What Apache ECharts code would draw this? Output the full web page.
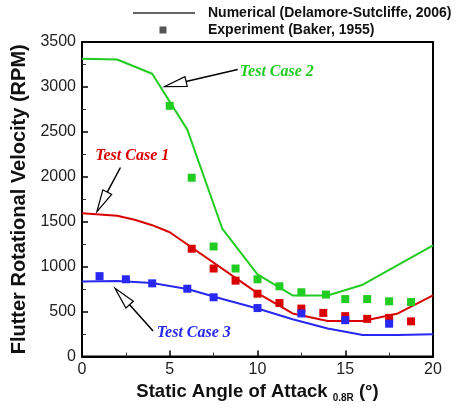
<!DOCTYPE html>
<html><head><meta charset="utf-8">
<script src="https://cdn.jsdelivr.net/npm/echarts@6/dist/echarts.min.js"></script>
<style>html,body{margin:0;padding:0;background:#fff}#c{width:462px;height:408px}</style>
</head><body><div id="c"></div>
<script>
// ---- data ----
const xTicks = [0, 5, 10, 15, 20];
const yTicks = [0, 500, 1000, 1500, 2000, 2500, 3000, 3500];

const case1Numerical = [[0,1595],[2,1566],[3,1522],[4,1462],[5,1383],[10,706],[12,480],[14,395],[16,395],[18,480],[20,680]];
const case1Experiment = [[6.25,1200],[7.5,980],[8.75,845],[10,700],[11.25,596],[12.5,534],[13.75,486],[15,450],[16.25,420],[17.5,431],[18.75,392]];

const case2Numerical = [[0,3315],[2,3305],[4,3147],[6,2525],[8,1420],[10,915],[12,680],[14,680],[16,800],[20,1237]];
const case2Experiment = [[5,2790],[6.25,1990],[7.5,1225],[8.75,980],[10,860],[11.25,782],[12.5,716],[13.9,690],[15,640],[16.25,640],[17.5,615],[18.75,607]];

const case3Numerical = [[0,835],[2,840],[4,818],[6,752],[8,640],[10,535],[12,415],[14,312],[16,240],[18,240],[20,248]];
const case3Experiment = [[1,895],[2.5,860],[4,815],[6,755],[7.5,660],[10,540],[12.5,480],[15,405],[17.5,366]];

const legendLabels = ['Numerical (Delamore-Sutcliffe, 2006)', 'Experiment (Baker, 1955)'];
const caseLabels = ['Test Case 1', 'Test Case 2', 'Test Case 3'];
// annotation anchors in data coordinates: [text, tail, tip]
const annotations = [
  {label: caseLabels[0], text: [2.86, 2228], tail: [2.19, 2104], tip: [0.85, 1614], align: 'center'},
  {label: caseLabels[1], text: [8.99, 3172], tail: [8.87, 3195], tip: [4.71, 3004], align: 'left'},
  {label: caseLabels[2], text: [4.26, 263], tail: [4.05, 285], tip: [1.88, 761], align: 'left'}
];

const RED = '#d80000', GREEN = '#22cc22', BLUE = '#2828f0';
const caseColors = [RED, GREEN, BLUE];

const chart = echarts.init(document.getElementById('c'), null, {renderer: 'canvas'});

function lineSeries(data, color) {
  return {type: 'line', data: data, showSymbol: false, symbol: 'none', silent: true,
    lineStyle: {color: color, width: 2}, z: 3, animation: false};
}
function scatterSeries(data, color) {
  return {type: 'scatter', data: data, symbol: 'rect', symbolSize: 8, silent: true,
    itemStyle: {color: color, opacity: 1}, z: 4, animation: false};
}

const option = {
  animation: false,
  grid: {left: 82, right: 29, top: 42, bottom: 47, show: true, borderColor: '#000', borderWidth: 2},
  xAxis: {
    type: 'value', min: 0, max: 20, interval: 5,
    axisLine: {lineStyle: {color: '#000', width: 2}},
    axisTick: {inside: true, length: 6, lineStyle: {color: '#000', width: 1.5}},
    minorTick: {show: true, splitNumber: 2, length: 4, lineStyle: {color: '#333', width: 1}},
    splitLine: {show: false},
    axisLabel: {fontSize: 16, color: '#222', fontFamily: 'Liberation Sans, Arial', margin: 5,
      formatter: v => xTicks.includes(v) ? String(v) : ''},
    name: 'Static Angle of Attack {s|0.8R} (°)',
    nameLocation: 'middle', nameGap: 20,
    nameTextStyle: {fontSize: 18.5, fontWeight: 'bold', color: '#111', fontFamily: 'Liberation Sans, Arial',
      rich: {s: {fontSize: 10, fontWeight: 'bold', color: '#111', fontFamily: 'Liberation Sans, Arial', padding: [12, 0, 0, 0]}}}
  },
  yAxis: {
    type: 'value', min: 0, max: 3500, interval: 500,
    axisLine: {lineStyle: {color: '#000', width: 2}},
    axisTick: {inside: true, length: 6, lineStyle: {color: '#000', width: 1.5}},
    minorTick: {show: true, splitNumber: 2, length: 4, lineStyle: {color: '#333', width: 1}},
    splitLine: {show: false},
    axisLabel: {fontSize: 16, color: '#222', fontFamily: 'Liberation Sans, Arial', margin: 6,
      formatter: v => yTicks.includes(v) ? String(v) : ''},
    name: 'Flutter Rotational Velocity (RPM)',
    nameLocation: 'middle', nameGap: 50,
    nameTextStyle: {fontSize: 20, fontWeight: 'bold', color: '#111', fontFamily: 'Liberation Sans, Arial'}
  },
  series: [
    lineSeries(case1Numerical, RED), scatterSeries(case1Experiment, RED),
    lineSeries(case2Numerical, GREEN), scatterSeries(case2Experiment, GREEN),
    lineSeries(case3Numerical, BLUE), scatterSeries(case3Experiment, BLUE)
  ]
};
chart.setOption(option);

// ---- legend and annotations as graphic elements ----
const g = [];
g.push({type: 'line', shape: {x1: 133, y1: 13, x2: 195, y2: 13}, style: {stroke: '#666', lineWidth: 2}});
g.push({type: 'rect', shape: {x: 159.5, y: 26.5, width: 7, height: 7}, style: {fill: '#555'}});
g.push({type: 'text', x: 208, y: 13, style: {text: legendLabels[0], font: 'bold 14px "Liberation Sans", Arial', fill: '#111', verticalAlign: 'middle'}});
g.push({type: 'text', x: 208, y: 30, style: {text: legendLabels[1], font: 'bold 14px "Liberation Sans", Arial', fill: '#111', verticalAlign: 'middle'}});

annotations.forEach((a, i) => {
  const T = chart.convertToPixel({gridIndex: 0}, a.tail);
  const P = chart.convertToPixel({gridIndex: 0}, a.tip);
  const X = chart.convertToPixel({gridIndex: 0}, a.text);
  const dx = P[0] - T[0], dy = P[1] - T[1];
  const len = Math.hypot(dx, dy);
  const ux = dx / len, uy = dy / len;
  const L = 22, w = 5;
  const B = [P[0] - ux * L, P[1] - uy * L];
  const nx = -uy, ny = ux;
  g.push({type: 'line', shape: {x1: T[0], y1: T[1], x2: B[0], y2: B[1]}, style: {stroke: '#000', lineWidth: 1.5}, z: 10});
  g.push({type: 'polygon', shape: {points: [P, [B[0] + nx * w, B[1] + ny * w], [B[0] - nx * w, B[1] - ny * w]]},
    style: {fill: '#fff', stroke: '#000', lineWidth: 1.2}, z: 10});
  g.push({type: 'text', x: X[0], y: X[1], style: {text: a.label, font: 'italic bold 16px "Liberation Serif", "Times New Roman", serif',
    fill: caseColors[i], align: a.align, verticalAlign: 'middle'}, z: 10});
});
chart.setOption({graphic: g});
</script></body></html>
